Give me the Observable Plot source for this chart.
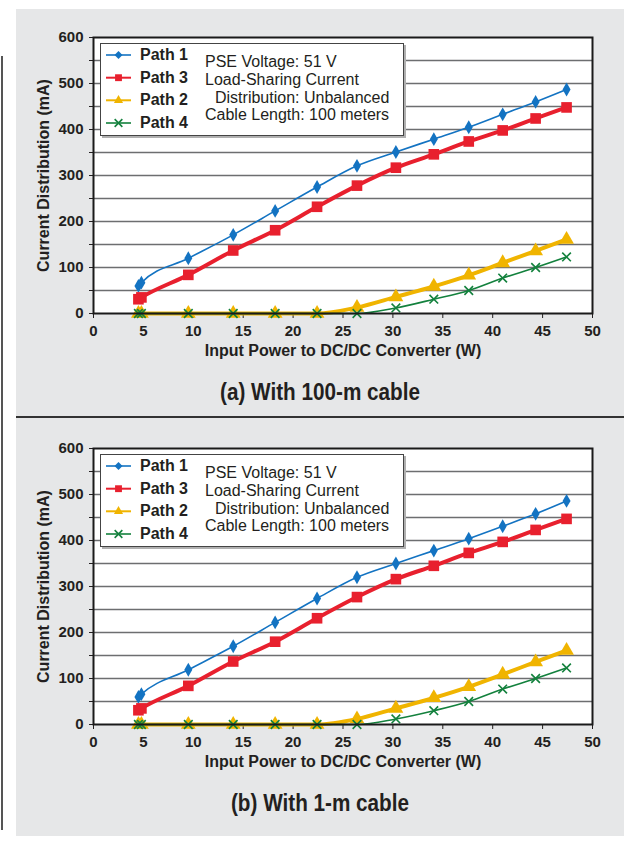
<!DOCTYPE html>
<html>
<head>
<meta charset="utf-8">
<script src="https://cdn.jsdelivr.net/npm/d3@7"></script>
<script src="https://cdn.jsdelivr.net/npm/@observablehq/plot@0.6"></script>
<style>
html, body { margin: 0; padding: 0; background: #fff; width: 639px; height: 848px; overflow: hidden; font-family: "Liberation Sans", Arial, sans-serif; }
#panel { position: absolute; left: 16px; top: 9px; width: 608px; height: 827px; background: #e6e7e8; }
#leftline { position: absolute; left: 1px; top: 56px; width: 2px; height: 774px; background: #555; }
#divider { position: absolute; left: 16px; top: 416px; width: 608px; height: 2px; background: #333; }
.chart { position: absolute; left: 0; }
.caption { position: absolute; left: 16px; width: 608px; text-align: center; font-family: "Liberation Sans", Arial, sans-serif; font-weight: bold; font-size: 23px; color: #231f20; line-height: 28px; transform: scaleX(0.9); transform-origin: 304px 0; }
.legend { position: absolute; left: 100px; width: 302px; height: 91px; background: #fff; border: 1px solid #444; box-shadow: 2px 2px 0 #b0b0b0; }
.legend svg { position: absolute; left: 0; top: 0; }
.lab { position: absolute; left: 39px; font-weight: bold; font-size: 16px; color: #231f20; line-height: 18px; }
.note { position: absolute; font-size: 16px; color: #231f20; line-height: 18px; white-space: nowrap; }
</style>
</head>
<body>
<div id="panel"></div>
<div id="leftline"></div>
<div id="divider"></div>
<div id="chartA" class="chart" style="top:0px"></div>
<div id="chartB" class="chart" style="top:411px"></div>
<div class="caption" style="top:378px">(a) With 100-m cable</div>
<div class="caption" style="top:789px">(b) With 1-m cable</div>
<script>
// Input power (W)
const power = [4.5, 4.8, 9.5, 14.0, 18.2, 22.4, 26.4, 30.3, 34.1, 37.6, 41.0, 44.3, 47.4];
// (a) 100-m cable, current (mA)
const a_path1 = [60, 67, 120, 171, 223, 275, 321, 351, 379, 405, 433, 460, 487];
const a_path3 = [31, 35, 84, 137, 181, 232, 278, 317, 346, 374, 398, 424, 448];
const a_path2 = [0, 0, 0, 0, 0, 0, 13, 36, 59, 83, 110, 136, 161];
const a_path4 = [0, 0, 0, 0, 0, 0, 0, 12, 31, 50, 77, 100, 123];
// (b) 1-m cable, current (mA)
const b_path1 = [60, 66, 119, 170, 222, 274, 320, 350, 378, 404, 431, 458, 486];
const b_path3 = [31, 35, 84, 137, 180, 231, 277, 316, 345, 373, 397, 423, 447];
const b_path2 = [0, 0, 0, 0, 0, 0, 12, 35, 58, 82, 109, 136, 161];
const b_path4 = [0, 0, 0, 0, 0, 0, 0, 12, 30, 50, 77, 100, 123];

const seriesNames = ["Path 1", "Path 3", "Path 2", "Path 4"];
const colors = {"Path 1": "#1373c2", "Path 3": "#e8202e", "Path 2": "#f0b400", "Path 4": "#13813d"};
const yTicks = d3.range(0, 601, 50);
const xTicks = d3.range(0, 51, 5);
const noteLines = ["PSE Voltage: 51 V", "Load-Sharing Current", "Distribution: Unbalanced", "Cable Length: 100 meters"];

function buildRows(p1, p3, p2, p4) {
  const rows = [];
  [[seriesNames[0], p1], [seriesNames[1], p3], [seriesNames[2], p2], [seriesNames[3], p4]].forEach(([name, vals]) => {
    vals.forEach((v, i) => rows.push({name, x: power[i], y: v}));
  });
  return rows;
}

function makeChart(p1, p3, p2, p4) {
  const rows = buildRows(p1, p3, p2, p4);
  const sel = n => rows.filter(d => d.name === n);
  return Plot.plot({
    width: 639,
    height: 375,
    marginLeft: 93,
    marginRight: 47,
    marginTop: 37,
    marginBottom: 62,
    style: {background: "transparent", fontFamily: "'Liberation Sans', Arial, sans-serif", fontSize: "15px", fontWeight: "bold", color: "#231f20", overflow: "visible"},
    x: {domain: [0, 50]},
    y: {domain: [0, 600]},
    marks: [
      Plot.frame({fill: "white", stroke: "none"}),
      Plot.ruleY(yTicks.filter(v => v > 0 && v < 600), {stroke: "#6d6e70", strokeWidth: 1.5}),
      Plot.axisY({ticks: yTicks, tickFormat: d => d % 100 === 0 ? String(d) : "", tickSize: 4, tickPadding: 6, fontSize: 15, stroke: "#231f20", label: null}),
      Plot.axisY({ticks: [], label: "Current Distribution (mA)", labelAnchor: "center", labelArrow: "none", labelOffset: 56, fontSize: 16}),
      Plot.axisX({ticks: xTicks, tickSize: 5, tickPadding: 7, fontSize: 15, stroke: "#231f20", label: null}),
      Plot.axisX({ticks: [], label: "Input Power to DC/DC Converter (W)", labelAnchor: "center", labelArrow: "none", labelOffset: 42, fontSize: 16}),
      Plot.line(sel("Path 1"), {x: "x", y: "y", stroke: colors["Path 1"], strokeWidth: 1.6, curve: "monotone-x"}),
      Plot.dot(sel("Path 1"), {x: "x", y: "y", symbol: "diamond", fill: colors["Path 1"], r: 4.2}),
      Plot.line(sel("Path 3"), {x: "x", y: "y", stroke: colors["Path 3"], strokeWidth: 4, curve: "monotone-x"}),
      Plot.dot(sel("Path 3"), {x: "x", y: "y", symbol: "square", fill: colors["Path 3"], r: 6}),
      Plot.line(sel("Path 2"), {x: "x", y: "y", stroke: colors["Path 2"], strokeWidth: 4, curve: "monotone-x"}),
      Plot.dot(sel("Path 2"), {x: "x", y: "y", symbol: "triangle", fill: colors["Path 2"], r: 5.5}),
      Plot.line(sel("Path 4"), {x: "x", y: "y", stroke: colors["Path 4"], strokeWidth: 1.6, curve: "monotone-x"}),
      Plot.dot(sel("Path 4"), {x: "x", y: "y", symbol: "times", stroke: colors["Path 4"], strokeWidth: 1.6, r: 4}),
      Plot.frame({stroke: "#1a1a1a", strokeWidth: 2})
    ]
  });
}

function makeLegend(top) {
  const box = document.createElement("div");
  box.className = "legend";
  box.style.top = top + "px";
  const ns = "http://www.w3.org/2000/svg";
  const svg = document.createElementNS(ns, "svg");
  svg.setAttribute("width", 40); svg.setAttribute("height", 91);
  const rowY = [11, 33.7, 56.3, 79];
  const sym = {"Path 1": d3.symbolDiamond2, "Path 3": d3.symbolSquare2, "Path 2": d3.symbolTriangle2, "Path 4": d3.symbolTimes};
  const symSize = {"Path 1": 40, "Path 3": 60, "Path 2": 60, "Path 4": 40};
  const lw = {"Path 1": 1.6, "Path 3": 2, "Path 2": 2, "Path 4": 1.6};
  seriesNames.forEach((n, i) => {
    const line = document.createElementNS(ns, "line");
    line.setAttribute("x1", 5); line.setAttribute("x2", 30);
    line.setAttribute("y1", rowY[i]); line.setAttribute("y2", rowY[i]);
    line.setAttribute("stroke", colors[n]); line.setAttribute("stroke-width", lw[n]);
    svg.appendChild(line);
    const p = document.createElementNS(ns, "path");
    p.setAttribute("d", d3.symbol(sym[n], symSize[n])());
    p.setAttribute("transform", `translate(17.5,${rowY[i]})`);
    if (n === "Path 4") { p.setAttribute("fill", "none"); p.setAttribute("stroke", colors[n]); p.setAttribute("stroke-width", 1.6); }
    else p.setAttribute("fill", colors[n]);
    svg.appendChild(p);
    const lab = document.createElement("div");
    lab.className = "lab";
    lab.style.top = (rowY[i] - 9) + "px";
    lab.textContent = n;
    box.appendChild(lab);
  });
  box.appendChild(svg);
  const noteY = [17.7, 36, 53.7, 71];
  const noteX = [104, 104, 114, 104];
  noteLines.forEach((t, i) => {
    const d = document.createElement("div");
    d.className = "note";
    d.style.left = noteX[i] + "px";
    d.style.top = (noteY[i] - 9) + "px";
    d.textContent = t;
    box.appendChild(d);
  });
  document.body.appendChild(box);
}

document.getElementById("chartA").appendChild(makeChart(a_path1, a_path3, a_path2, a_path4));
document.getElementById("chartB").appendChild(makeChart(b_path1, b_path3, b_path2, b_path4));
makeLegend(43);
makeLegend(454);
</script>
</body>
</html>
